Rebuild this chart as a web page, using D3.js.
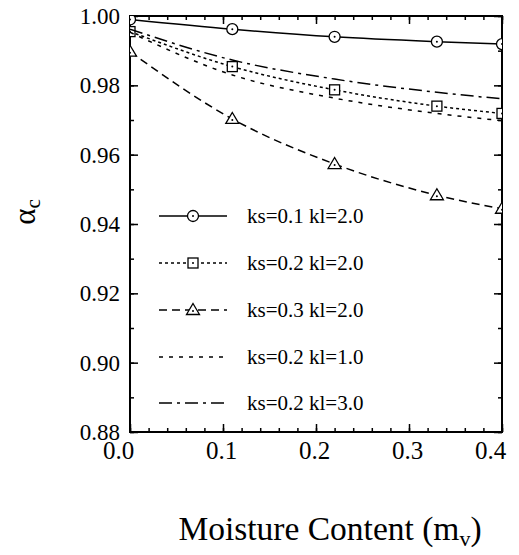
<!DOCTYPE html>
<html>
<head>
<meta charset="utf-8">
<script src="https://cdn.jsdelivr.net/npm/d3@7"></script>
<style>
  html, body { margin: 0; padding: 0; background: white; }
  svg text { font-family: "Liberation Serif", "Times New Roman", serif; fill: black; }
</style>
</head>
<body>
<script>
// values
var moisture = [0, 0.11, 0.22, 0.33, 0.4];
var ks01kl20 = [0.9990, 0.9962, 0.9940, 0.9926, 0.9919];
var ks02kl20 = [0.9955, 0.9854, 0.9787, 0.9740, 0.9719];
var ks03kl20 = [0.9897, 0.9703, 0.9573, 0.9483, 0.9444];
var ks02kl10 = [0.9953, 0.9830, 0.9763, 0.9719, 0.9698];
var ks02kl30 = [0.9962, 0.9873, 0.9818, 0.9780, 0.9761];
var seriesNames = ["ks=0.1 kl=2.0", "ks=0.2 kl=2.0", "ks=0.3 kl=2.0", "ks=0.2 kl=1.0", "ks=0.2 kl=3.0"];
var xTicks = [0, 0.1, 0.2, 0.3, 0.4];
var yTicks = [0.88, 0.90, 0.92, 0.94, 0.96, 0.98, 1.00];

var series = [
  { name: seriesNames[0], values: ks01kl20, dash: null, marker: "circle" },
  { name: seriesNames[1], values: ks02kl20, dash: "3,3", marker: "square" },
  { name: seriesNames[2], values: ks03kl20, dash: "8,5", marker: "triangle" },
  { name: seriesNames[3], values: ks02kl10, dash: "4,6", marker: null },
  { name: seriesNames[4], values: ks02kl30, dash: "13,5,3,5", marker: null }
];

var serif = '"Liberation Serif", "Times New Roman", serif';
var plotLeft = 130, plotRight = 502, plotTop = 16, plotBottom = 432;

var svg = d3.select("body").append("svg")
  .attr("width", 519)
  .attr("height", 555);

var x = d3.scaleLinear().domain([0, 0.4]).range([plotLeft, plotRight]);
var y = d3.scaleLinear().domain([0.88, 1.0]).range([plotBottom, plotTop]);

svg.append("clipPath").attr("id", "plotclip")
  .append("rect")
  .attr("x", plotLeft).attr("y", plotTop)
  .attr("width", plotRight - plotLeft).attr("height", plotBottom - plotTop);

// ticks (inward, all four sides)
var xMinor = d3.range(0, 0.4001, 0.02);
var yMinor = d3.range(0.88, 1.0001, 0.01);

function tickAxis(axisFn, scale, ticks, size, transform) {
  var g = svg.append("g")
    .attr("transform", transform)
    .call(axisFn(scale).tickValues(ticks).tickSizeInner(size).tickSizeOuter(0).tickFormat(""));
  g.select(".domain").remove();
  g.selectAll(".tick line").attr("stroke", "black").attr("stroke-width", 1.5);
  return g;
}

// minor
tickAxis(d3.axisTop, x, xMinor, 4, "translate(0," + plotBottom + ")");
tickAxis(d3.axisBottom, x, xMinor, 4, "translate(0," + plotTop + ")");
tickAxis(d3.axisRight, y, yMinor, 4, "translate(" + plotLeft + ",0)");
tickAxis(d3.axisLeft, y, yMinor, 4, "translate(" + plotRight + ",0)");
// major, mirrored
tickAxis(d3.axisBottom, x, xTicks, 8, "translate(0," + plotTop + ")");
tickAxis(d3.axisLeft, y, yTicks, 8, "translate(" + plotRight + ",0)");

var xAxis = svg.append("g")
  .attr("transform", "translate(0," + plotBottom + ")")
  .call(d3.axisTop(x).tickValues(xTicks).tickSizeInner(8).tickSizeOuter(0).tickFormat(d3.format(".1f")))
  .attr("font-family", serif);
xAxis.select(".domain").remove();
xAxis.selectAll(".tick line").attr("stroke", "black").attr("stroke-width", 1.5);
xAxis.selectAll(".tick text")
  .attr("y", 27)
  .attr("dy", 0)
  .attr("dx", function (d) { return d === 0 || d === 0.4 ? -12 : -2; })
  .style("font-family", serif)
  .style("font-size", "25px");

var yAxis = svg.append("g")
  .attr("transform", "translate(" + plotLeft + ",0)")
  .call(d3.axisRight(y).tickValues(yTicks).tickSizeInner(8).tickSizeOuter(0).tickFormat(d3.format(".2f")))
  .attr("font-family", serif);
yAxis.select(".domain").remove();
yAxis.selectAll(".tick line").attr("stroke", "black").attr("stroke-width", 1.5);
yAxis.selectAll(".tick text")
  .attr("x", -10)
  .attr("dy", "0.33em")
  .attr("text-anchor", "end")
  .style("font-family", serif)
  .style("font-size", "23px");

// frame
svg.append("rect")
  .attr("x", plotLeft).attr("y", plotTop)
  .attr("width", plotRight - plotLeft).attr("height", plotBottom - plotTop)
  .attr("fill", "none")
  .attr("stroke", "black")
  .attr("stroke-width", 2);

// curves
var line = d3.line()
  .x(function (d, i) { return x(moisture[i]); })
  .y(function (d) { return y(d); })
  .curve(d3.curveMonotoneX);

var plot = svg.append("g").attr("clip-path", "url(#plotclip)");

function drawMarker(g, type, cx, cy) {
  if (type === "circle") {
    g.append("circle").attr("cx", cx).attr("cy", cy).attr("r", 5.5)
      .attr("fill", "white").attr("stroke", "black").attr("stroke-width", 1.3);
  } else if (type === "square") {
    g.append("rect").attr("x", cx - 5).attr("y", cy - 5).attr("width", 10).attr("height", 10)
      .attr("fill", "white").attr("stroke", "black").attr("stroke-width", 1.3);
  } else if (type === "triangle") {
    g.append("path")
      .attr("d", "M" + cx + "," + (cy - 6.5) + "L" + (cx + 6.5) + "," + (cy + 4.5) + "L" + (cx - 6.5) + "," + (cy + 4.5) + "Z")
      .attr("fill", "white").attr("stroke", "black").attr("stroke-width", 1.3);
  }
  g.append("circle").attr("cx", cx).attr("cy", type === "triangle" ? cy + 1 : cy).attr("r", 1)
    .attr("fill", "black");
}

series.forEach(function (s) {
  plot.append("path")
    .datum(s.values)
    .attr("d", line)
    .attr("fill", "none")
    .attr("stroke", "black")
    .attr("stroke-width", 1.5)
    .attr("stroke-dasharray", s.dash);
  if (s.marker) {
    s.values.forEach(function (v, i) {
      drawMarker(plot, s.marker, x(moisture[i]), y(v));
    });
  }
});

// legend
var legendY = [216, 263, 310, 357, 403];
series.forEach(function (s, i) {
  var ly = legendY[i];
  svg.append("line")
    .attr("x1", 159).attr("x2", 227)
    .attr("y1", ly).attr("y2", ly)
    .attr("stroke", "black")
    .attr("stroke-width", 1.5)
    .attr("stroke-dasharray", s.dash);
  if (s.marker) drawMarker(svg, s.marker, 193, ly);
  svg.append("text")
    .attr("x", 247)
    .attr("y", ly + 7)
    .style("font-size", "21px")
    .text(s.name);
});

// axis titles
var xt = svg.append("text")
  .attr("x", 330)
  .attr("y", 540)
  .attr("text-anchor", "middle")
  .style("font-size", "33.5px");
xt.append("tspan").text("Moisture Content (m");
xt.append("tspan").attr("dy", 6).style("font-size", "22px").text("v");
xt.append("tspan").attr("dy", -6).text(")");

var yt = svg.append("text")
  .attr("transform", "translate(35,212) rotate(-90)")
  .attr("text-anchor", "middle")
  .style("font-size", "31px");
yt.append("tspan").text("α");
yt.append("tspan").attr("dy", 5).style("font-size", "21px").text("c");
</script>
</body>
</html>
